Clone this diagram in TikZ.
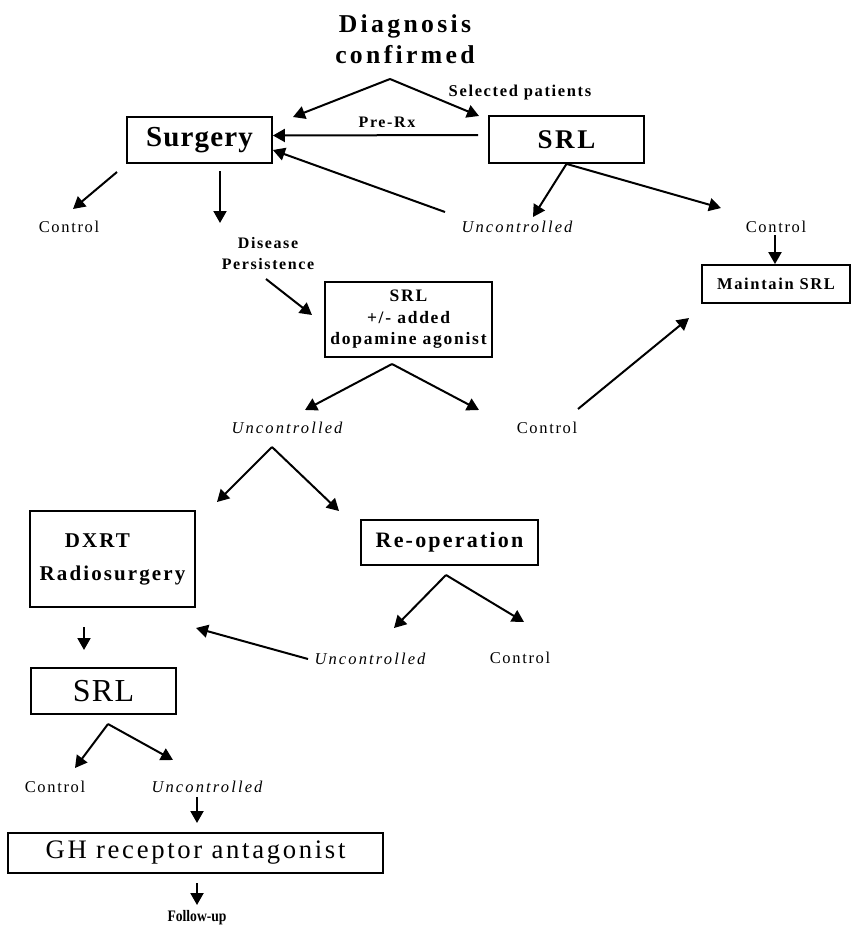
\documentclass[tikz,border=0pt]{standalone}
\usepackage{fontspec}
\setmainfont{Liberation Serif}
\newfontfamily\spacedfont{Liberation Serif}[LetterSpace=10]
\newfontfamily\titlefont{Liberation Serif}[LetterSpace=13]
\newfontfamily\tightfont{Liberation Serif}[LetterSpace=4]
\newfontfamily\narrowfont{Liberation Serif}[FakeStretch=0.85]
\usetikzlibrary{arrows.meta}

\begin{document}
\begin{tikzpicture}[x=1pt,y=-1pt,
    box/.style={draw,line width=1.8pt,inner sep=0pt},
    arr/.style={line width=2pt,-{Triangle[length=12pt,width=13pt]}},
    lbl/.style={inner sep=0pt,font=\spacedfont\fontsize{16.5}{19}\selectfont},
    blbl/.style={inner sep=0pt,font=\spacedfont\bfseries\fontsize{16}{21}\selectfont},
    ilbl/.style={inner sep=0pt,font=\titlefont\itshape\fontsize{16.5}{19}\selectfont}]
  \path[use as bounding box] (0,0) rectangle (852,932);

  % boxes
  \node[box,minimum width=145pt,minimum height=46pt,
        font=\tightfont\bfseries\fontsize{29}{34}\selectfont] (surg) at (199.5,140) {Surgery};
  \node[box,minimum width=155pt,minimum height=47pt,
        font=\spacedfont\bfseries\fontsize{27}{32}\selectfont] (srlA) at (566.5,139.5) {SRL};
  \node[box,minimum width=167pt,minimum height=75pt,align=center,
        font=\spacedfont\bfseries\fontsize{17.5}{21.5}\selectfont] (srlB) at (408.5,319.5)
        {SRL\\+/- added\\dopamine agonist};
  \node[box,minimum width=148pt,minimum height=38pt,
        font=\spacedfont\bfseries\fontsize{16.5}{19}\selectfont] (maint) at (776,284) {Maintain SRL};
  \node[box,minimum width=165pt,minimum height=96pt,align=center,
        font=\spacedfont\bfseries\fontsize{21}{33}\selectfont] (dxrt) at (112.5,559)
        {DXRT\hspace*{30pt}\\Radiosurgery};
  \node[box,minimum width=177pt,minimum height=45pt,
        font=\spacedfont\bfseries\fontsize{22}{26}\selectfont] (reop) at (449.5,542.5) {Re-operation};
  \node[box,minimum width=145pt,minimum height=46pt,
        font=\tightfont\fontsize{32}{36}\selectfont] (srlC) at (103.5,691) {SRL};
  \node[box,minimum width=375pt,minimum height=40pt,
        font=\spacedfont\fontsize{26.7}{30}\selectfont] (gh) at (195.5,853) {GH receptor antagonist};

  % labels
  \node[inner sep=0pt,align=center,font=\titlefont\bfseries\fontsize{25.7}{31}\selectfont]
        (diag) at (405,39) {Diagnosis\\confirmed};
  \node[blbl,font=\spacedfont\bfseries\fontsize{16.5}{19}\selectfont] (selpat) at (520,93) {Selected patients};
  \node[blbl] (prerx) at (387,122) {Pre-Rx};
  \node[lbl] (ctlA) at (69,227) {Control};
  \node[blbl,align=center] (persist) at (268,254) {Disease\\Persistence};
  \node[ilbl] (uncA) at (517,227) {Uncontrolled};
  \node[lbl] (ctlB) at (776,227) {Control};
  \node[ilbl] (uncB) at (287,428) {Uncontrolled};
  \node[lbl] (ctlC) at (547,428) {Control};
  \node[ilbl] (uncC) at (370,659) {Uncontrolled};
  \node[lbl] (ctlD) at (520,658) {Control};
  \node[lbl] (ctlE) at (55,787) {Control};
  \node[ilbl] (uncD) at (207,787) {Uncontrolled};
  \node[inner sep=0pt,font=\narrowfont\bfseries\fontsize{16}{19}\selectfont] (follow) at (197,918) {Follow-up};

  % branch points and free arrow ends
  \coordinate (forkA) at (390,79);
  \coordinate (forkB) at (392,364);
  \coordinate (forkC) at (272,447);
  \coordinate (forkD) at (446,575);
  \coordinate (forkE) at (108,724);
  \foreach \n/\px/\py in {tipSurg/293/117, tipSrl/479/116, tipUncB/305/410, tipCtlC/479/410,
      tipDxrt/217/502, tipReop/339/511, tipUncC/394/628, tipCtlD/524/622,
      tipCtlE/75/768, tipUncD/173/760}
    \coordinate (\n) at (\px,\py);

  \foreach \f/\t in {forkA/tipSurg, forkA/tipSrl, forkB/tipUncB, forkB/tipCtlC,
      forkC/tipDxrt, forkC/tipReop, forkD/tipUncC, forkD/tipCtlD,
      forkE/tipCtlE, forkE/tipUncD}
    \draw[arr] (\f) -- (\t);

  \draw[arr] ([xshift=-10pt,yshift=4.5pt]srlA.west) -- ([yshift=4.5pt]surg.east);
  \draw[arr] (445,212) coordinate (uncAtail) -- ([yshift=-10pt]surg.east);
  \draw[arr] (117,172) coordinate (surgsw) -- (73,209) coordinate (ctlAtip);
  \draw[arr] (220,171) coordinate (surgs) -- (220,223) coordinate (persisttip);
  \draw[arr] (srlA.south) -- (533,217) coordinate (uncAtip);
  \draw[arr] (srlA.south) -- (721,208) coordinate (ctlBtip);
  \draw[arr] (775,235) coordinate (ctlBs) -- (maint.north -| ctlBs);
  \draw[arr] (266,279) coordinate (persists) -- (312,315) coordinate (srlBtip);
  \draw[arr] (578,409) coordinate (ctlCtail) -- (689,318) coordinate (maintsw);
  \draw[arr] (308,659) coordinate (uncCtail) -- (196,628) coordinate (dxrttip);
  \draw[arr] (84,627) coordinate (dxrts) -- (84,650) coordinate (srlCtip);
  \draw[arr] (197,797) coordinate (uncDs) -- (197,823) coordinate (ghtip);
  \draw[arr] (197,883) coordinate (ghs) -- (197,905) coordinate (followtip);
\end{tikzpicture}
\end{document}
